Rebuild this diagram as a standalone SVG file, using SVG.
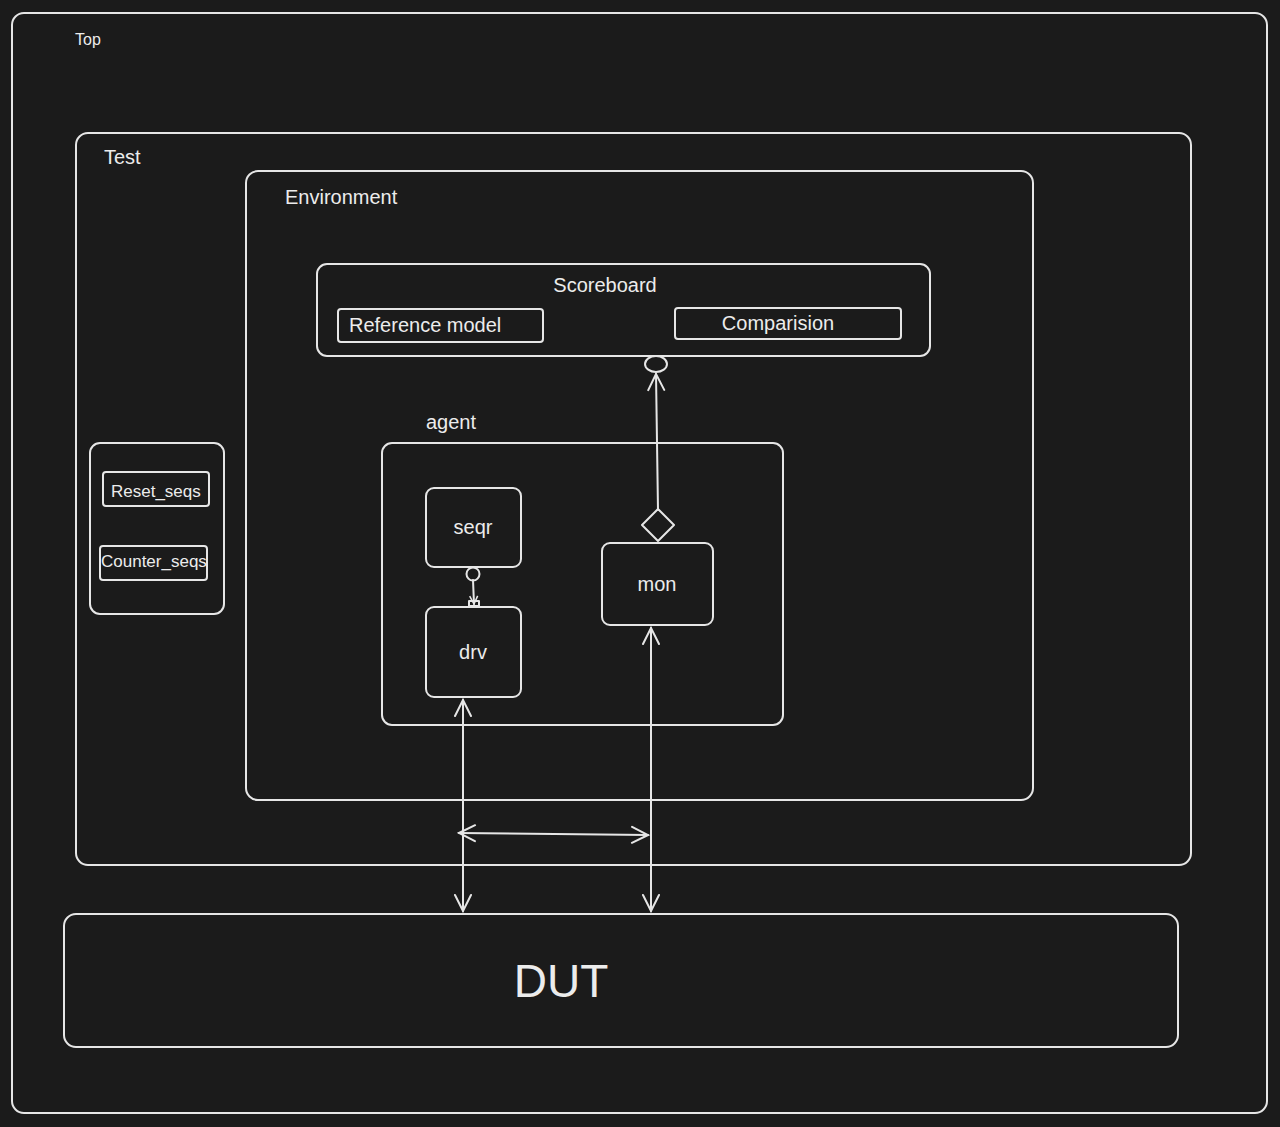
<svg xmlns="http://www.w3.org/2000/svg" width="1280" height="1127" viewBox="0 0 1280 1127">
<style>
.box{fill:none;stroke:#e6e6e6;stroke-width:2}
.t{fill:#ececec;font-family:"Liberation Sans",Arial,sans-serif}
.ln{fill:none;stroke:#e6e6e6;stroke-width:2;stroke-linecap:round;stroke-linejoin:round}
</style>
<defs>
<marker id="arr" viewBox="0 0 20 20" refX="18" refY="10" markerWidth="20" markerHeight="20" markerUnits="userSpaceOnUse" orient="auto-start-reverse">
<path d="M2,2 L18,10 L2,18" fill="none" stroke="#e6e6e6" stroke-width="2" stroke-linecap="round"/>
</marker>
<marker id="sarr" viewBox="0 0 10 10" refX="9" refY="5" markerWidth="10" markerHeight="10" markerUnits="userSpaceOnUse" orient="auto">
<path d="M1,1 L9,5 L1,9" fill="none" stroke="#e6e6e6" stroke-width="1.5"/>
</marker>
</defs>
<rect width="1280" height="1127" fill="#1b1b1b"/>
<g id="top"><rect class="box" x="12" y="13" width="1255" height="1100" rx="12"/><text class="t" x="75" y="45" font-size="16">Top</text></g>
<g id="test"><rect class="box" x="76" y="133" width="1115" height="732" rx="12"/><text class="t" x="104" y="164" font-size="20">Test</text></g>
<g id="environment"><rect class="box" x="246" y="171" width="787" height="629" rx="12"/><text class="t" x="285" y="204" font-size="20">Environment</text></g>
<g id="scoreboard"><rect class="box" x="317" y="264" width="613" height="92" rx="10"/><text class="t" x="605" y="292" font-size="20" text-anchor="middle">Scoreboard</text></g>
<g id="refmodel"><rect class="box" x="338" y="309" width="205" height="33" rx="3"/><text class="t" x="349" y="332" font-size="20">Reference model</text></g>
<g id="comparision"><rect class="box" x="675" y="308" width="226" height="31" rx="3"/><text class="t" x="778" y="330" font-size="20" text-anchor="middle">Comparision</text></g>
<g id="agent"><rect class="box" x="382" y="443" width="401" height="282" rx="10"/><text class="t" x="426" y="429" font-size="20">agent</text></g>
<g id="seqr"><rect class="box" x="426" y="488" width="95" height="79" rx="8"/><text class="t" x="473" y="534" font-size="20" text-anchor="middle">seqr</text></g>
<g id="drv"><rect class="box" x="426" y="607" width="95" height="90" rx="8"/><text class="t" x="473" y="659" font-size="20" text-anchor="middle">drv</text></g>
<g id="mon"><rect class="box" x="602" y="543" width="111" height="82" rx="8"/><text class="t" x="657" y="591" font-size="20" text-anchor="middle">mon</text></g>
<g id="seqs"><rect class="box" x="90" y="443" width="134" height="171" rx="10"/></g>
<g id="reset_seqs"><rect class="box" x="103" y="472" width="106" height="34" rx="3"/><text class="t" x="111" y="497" font-size="17">Reset_seqs</text></g>
<g id="counter_seqs"><rect class="box" x="100" y="546" width="107" height="34" rx="3"/><text class="t" x="101" y="567" font-size="17">Counter_seqs</text></g>
<g id="dut"><rect class="box" x="64" y="914" width="1114" height="133" rx="12"/><text class="t" x="561" y="997" font-size="46" text-anchor="middle" font-family="'Open Sans',sans-serif">DUT</text></g>
<g id="connectors">
<ellipse class="ln" cx="656" cy="364" rx="11" ry="8"/>
<path class="ln" d="M658,510 L656,374" marker-end="url(#arr)"/>
<path class="ln" d="M658,509 L674,525 L658,541 L642,525 Z"/>
<circle class="ln" cx="473" cy="574" r="6.5" stroke-width="1.5"/>
<path class="ln" d="M473,580 L474,604" stroke-width="1.5" marker-end="url(#sarr)"/>
<rect class="ln" x="469" y="601" width="10" height="5" stroke-width="1.5"/>
<path class="ln" d="M463,700 L463,911" marker-start="url(#arr)" marker-end="url(#arr)"/>
<path class="ln" d="M651,628 L651,911" marker-start="url(#arr)" marker-end="url(#arr)"/>
<path class="ln" d="M459,833 L648,835" marker-start="url(#arr)" marker-end="url(#arr)"/>
</g>
</svg>
